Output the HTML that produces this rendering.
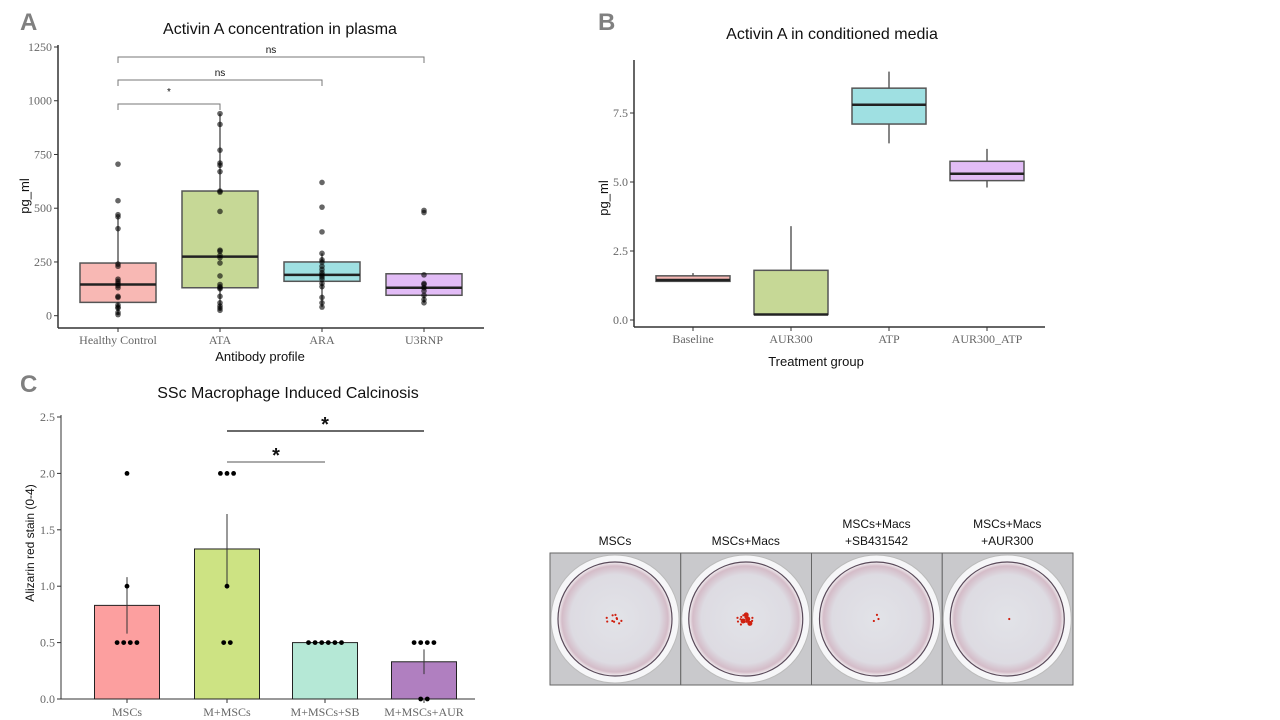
<!DOCTYPE html>
<html><head><meta charset="utf-8"><style>
body{margin:0;background:#fff;width:1280px;height:720px;overflow:hidden}
svg{display:block}
.t{font-family:"Liberation Sans",sans-serif;fill:#111}
.tk{font-family:"Liberation Serif",serif;fill:#666;font-size:12px}
.pl{font-family:"Liberation Sans",sans-serif;font-weight:bold;fill:#808080;font-size:24px}
</style></head><body>
<svg id="fig" width="1280" height="720">
<text class="pl" x="20" y="30">A</text>
<text class="pl" x="598" y="30">B</text>
<text class="pl" x="20" y="392">C</text>
<g id="pa"></g>
<g id="pb"></g>
<g id="pc"></g>
<g id="pd"></g>
</svg>
<script>
// Panel A data
const aCats=["Healthy Control","ATA","ARA","U3RNP"];
const aQ1=[62,130,160,95],aMed=[145,275,190,130],aQ3=[245,580,250,195],aMin=[5,25,40,60],aMax=[460,940,290,195];
const aPts=[[705,535,470,460,405,240,230,170,160,150,140,130,90,85,50,40,35,15,5],
[940,890,770,710,700,670,580,575,485,305,300,280,270,245,185,145,135,130,125,90,60,45,35,25],
[620,505,390,290,260,250,230,215,200,190,180,170,150,135,85,60,40],
[490,480,190,150,145,130,115,95,75,60]];
const aTicks=[0,250,500,750,1000,1250];
// Panel B data
const bCats=["Baseline","AUR300","ATP","AUR300_ATP"];
const bQ1=[1.4,0.2,7.1,5.05],bMed=[1.45,0.2,7.8,5.3],bQ3=[1.6,1.8,8.4,5.75],bMin=[1.4,0.2,6.4,4.8],bMax=[1.7,3.4,9.0,6.2];
const bTicks=[0,2.5,5,7.5],bTickLabels=["0.0","2.5","5.0","7.5"];
// Panel C data
const cCats=["MSCs","M+MSCs","M+MSCs+SB","M+MSCs+AUR"];
const cVals=[0.83,1.33,0.5,0.33],cErr=[0.25,0.31,0,0.11];
const cPts=[[2,1,0.5,0.5,0.5,0.5],[2,2,2,1,0.5,0.5],[0.5,0.5,0.5,0.5,0.5,0.5],[0.5,0.5,0.5,0.5,0,0]];
const cTicks=[0,0.5,1,1.5,2,2.5],cTickLabels=["0.0","0.5","1.0","1.5","2.0","2.5"];
const aCol=["#f8b8b4","#c6d896","#9fe0e2","#e2bcf6"];
const cCol=["#fc9f9f","#cde383","#b5e8d6","#b07fc0"];
const NS="http://www.w3.org/2000/svg";
function mk(p,tag,at,txt){const e=document.createElementNS(NS,tag);for(const k in at)e.setAttribute(k,at[k]);if(txt!==undefined)e.textContent=txt;p.appendChild(e);return e;}

function boxPanel(g,cats,q1,med,q3,mn,mx,ticks,tlabels,o){
  const y=v=>o.y0-(v-o.vmin)/(o.vmax-o.vmin)*(o.y0-o.y1);
  const xs=o.xs;
  let e=mk(g,"line",{x1:o.ax,y1:o.top,x2:o.ax,y2:o.bot,stroke:"#333","stroke-width":1.5});
  
  e=mk(g,"line",{x1:o.ax,y1:o.bot,x2:o.right,y2:o.bot,stroke:"#333","stroke-width":1.5});
  
  ticks.forEach((t,i)=>{mk(g,"line",{x1:o.ax-4,x2:o.ax,y1:y(t),y2:y(t),stroke:"#333"});
    e=mk(g,"text",{class:"tk",x:o.ax-6,y:y(t)+4,"text-anchor":"end"},tlabels[i]);
    });
  cats.forEach((c,i)=>{const x=xs[i],w=o.bw;
    mk(g,"line",{x1:x,x2:x,y1:o.bot,y2:o.bot+4,stroke:"#333"});
    e=mk(g,"text",{class:"tk",x:x,y:o.bot+16,"text-anchor":"middle"},c);
    
    mk(g,"line",{x1:x,x2:x,y1:y(mx[i]),y2:y(q3[i]),stroke:"#444","stroke-width":1.3});
    mk(g,"line",{x1:x,x2:x,y1:y(q1[i]),y2:y(mn[i]),stroke:"#444","stroke-width":1.3});
    e=mk(g,"rect",{x:x-w/2,y:y(q3[i]),width:w,height:y(q1[i])-y(q3[i]),fill:aCol[i],stroke:"#555","stroke-width":1.5});
    
    mk(g,"line",{x1:x-w/2,x2:x+w/2,y1:y(med[i]),y2:y(med[i]),stroke:"#222","stroke-width":2.5});
  });
  return y;
}
// Panel A
const ga=document.getElementById("pa");
const oa={xs:[118,220,322,424],bw:76,ax:58,top:45,bot:328,right:484,y0:315.7,y1:47,vmin:0,vmax:1250};
const ya=boxPanel(ga,aCats,aQ1,aMed,aQ3,aMin,aMax,aTicks,aTicks.map(String),oa);
aPts.forEach((ps,i)=>ps.forEach(v=>{const c=mk(ga,"circle",{cx:oa.xs[i],cy:ya(v),r:2.8,fill:"#000","fill-opacity":0.6});
  }));
[[0,1,104,"*",95],[0,2,80,"ns",76],[0,3,57,"ns",53]].forEach(b=>{
  const x1=oa.xs[b[0]],x2=oa.xs[b[1]];
  mk(ga,"path",{d:`M${x1},${b[2]+6}V${b[2]}H${x2}V${b[2]+6}`,fill:"none",stroke:"#777"});
  const t=mk(ga,"text",{class:"t",x:(x1+x2)/2,y:b[4],"text-anchor":"middle","font-size":"10px",fill:"#444"},b[3]);
  });
let e=mk(ga,"text",{class:"t",x:280,y:34,"text-anchor":"middle","font-size":"16px"},"Activin A concentration in plasma");
e=mk(ga,"text",{class:"t",x:260,y:361,"text-anchor":"middle","font-size":"13px"},"Antibody profile");
e=mk(ga,"text",{class:"t",x:0,y:0,"text-anchor":"middle","font-size":"13px",transform:"translate(29,196) rotate(-90)"},"pg_ml");
// Panel B
const gb=document.getElementById("pb");
const ob={xs:[693,791,889,987],bw:74,ax:634,top:60,bot:327,right:1045,y0:320,y1:113,vmin:0,vmax:7.5};
boxPanel(gb,bCats,bQ1,bMed,bQ3,bMin,bMax,bTicks,bTickLabels,ob);
e=mk(gb,"text",{class:"t",x:832,y:39,"text-anchor":"middle","font-size":"16px"},"Activin A in conditioned media");
e=mk(gb,"text",{class:"t",x:816,y:366,"text-anchor":"middle","font-size":"13px"},"Treatment group");
e=mk(gb,"text",{class:"t",x:0,y:0,"text-anchor":"middle","font-size":"13px",transform:"translate(608,198) rotate(-90)"},"pg_ml");
// Panel C
const gc=document.getElementById("pc");
const cx=[127,227,325,424],cy=v=>699-v/2.5*282;
mk(gc,"line",{x1:61,y1:415,x2:61,y2:699,stroke:"#333"});
mk(gc,"line",{x1:61,y1:699,x2:475,y2:699,stroke:"#333"});
cTicks.forEach((t,i)=>{mk(gc,"line",{x1:57,x2:61,y1:cy(t),y2:cy(t),stroke:"#333"});
  e=mk(gc,"text",{class:"tk",x:55,y:cy(t)+4,"text-anchor":"end","font-size":"11px",fill:"#888"},cTickLabels[i]);});
cCats.forEach((c,i)=>{const x=cx[i];
  e=mk(gc,"rect",{x:x-32.5,y:cy(cVals[i]),width:65,height:699-cy(cVals[i]),fill:cCol[i],stroke:"#222","stroke-width":1});
  
  if(cErr[i]>0)mk(gc,"line",{x1:x,x2:x,y1:cy(cVals[i]-cErr[i]),y2:cy(cVals[i]+cErr[i]),stroke:"#333"});
  mk(gc,"line",{x1:x,x2:x,y1:699,y2:703,stroke:"#333"});
  e=mk(gc,"text",{class:"tk",x:x,y:716,"text-anchor":"middle","font-size":"11px",fill:"#777"},c);
  const cnt={};cPts[i].forEach(v=>cnt[v]=(cnt[v]||0)+1);
  const idx={};cPts[i].forEach(v=>{idx[v]=(idx[v]||0);const n=cnt[v];const px=x+(idx[v]-(n-1)/2)*6.6;idx[v]++;
    const d=mk(gc,"circle",{cx:px,cy:cy(v),r:2.4,fill:"#000"});});
});
mk(gc,"line",{x1:227,x2:325,y1:462,y2:462,stroke:"#777","stroke-width":1.3});
e=mk(gc,"text",{class:"t",x:276,y:462,"text-anchor":"middle","font-size":"20px","font-weight":"bold"},"*");
mk(gc,"line",{x1:227,x2:424,y1:431,y2:431,stroke:"#111","stroke-width":1.3});
e=mk(gc,"text",{class:"t",x:325,y:431,"text-anchor":"middle","font-size":"20px","font-weight":"bold"},"*");
e=mk(gc,"text",{class:"t",x:288,y:398,"text-anchor":"middle","font-size":"16px"},"SSc Macrophage Induced Calcinosis");
e=mk(gc,"text",{class:"t",x:0,y:0,"text-anchor":"middle","font-size":"12px",transform:"translate(34,543) rotate(-90)"},"Alizarin red stain (0-4)");
// Well images
const gd=document.getElementById("pd");
const defs=mk(gd,"defs",{});
const rg=mk(defs,"radialGradient",{id:"wg"});
mk(rg,"stop",{offset:"0%","stop-color":"#e2e3e8"});
mk(rg,"stop",{offset:"78%","stop-color":"#dddbe2"});
mk(rg,"stop",{offset:"93%","stop-color":"#d4bcc8"});
mk(rg,"stop",{offset:"100%","stop-color":"#f4f2f4"});
const wl=[["MSCs"],["MSCs+Macs"],["MSCs+Macs","+SB431542"],["MSCs+Macs","+AUR300"]];
const spots=[10,18,3,1];
wl.forEach((l,i)=>{const x0=550+i*130.75,cxw=x0+65,cyw=619;
  e=mk(gd,"rect",{x:x0,y:553,width:130.75,height:132,fill:"#c9c9cc",stroke:"#666"});
  mk(gd,"circle",{cx:cxw,cy:cyw,r:64,fill:"#f6f6f8",stroke:"#bbb"});
  mk(gd,"circle",{cx:cxw,cy:cyw,r:57,fill:"url(#wg)",stroke:"#5a4a5a","stroke-width":1.2});
  for(let k=0;k<spots[i];k++){const a=k*2.4,rr=2+(k%5)*1.6;mk(gd,"circle",{cx:cxw+Math.cos(a)*rr,cy:cyw+Math.sin(a)*rr*0.8,r:i==1&&k<4?2.5:1.1,fill:"#d02010"});}
  l.forEach((s,j)=>{e=mk(gd,"text",{class:"t",x:cxw,y:(l.length==1?545:528)+j*17,"text-anchor":"middle","font-size":"12px"},s);});
});
</script>
</body></html>
